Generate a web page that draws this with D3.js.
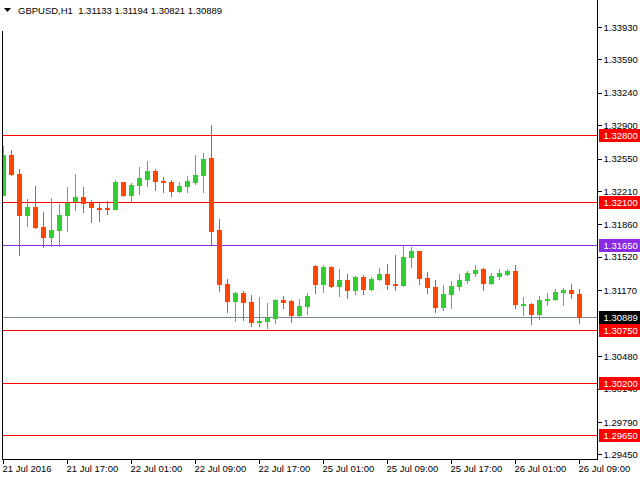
<!DOCTYPE html>
<html><head><meta charset="utf-8">
<script src="https://cdn.jsdelivr.net/npm/d3@7"></script>
<style>
html,body{margin:0;padding:0;background:#fff;overflow:hidden}
svg{display:block}
text{font-family:'Liberation Sans',Arial,sans-serif;font-size:9.5px;}
</style></head><body><svg id="c" width="640" height="480"></svg>
<script>
const symbol = "GBPUSD,H1";
const times = [
 "21 Jul 09:00","21 Jul 10:00","21 Jul 11:00","21 Jul 12:00","21 Jul 13:00","21 Jul 14:00","21 Jul 15:00","21 Jul 16:00",
 "21 Jul 17:00","21 Jul 18:00","21 Jul 19:00","21 Jul 20:00","21 Jul 21:00","21 Jul 22:00","21 Jul 23:00",
 "22 Jul 00:00","22 Jul 01:00","22 Jul 02:00","22 Jul 03:00","22 Jul 04:00","22 Jul 05:00","22 Jul 06:00","22 Jul 07:00","22 Jul 08:00",
 "22 Jul 09:00","22 Jul 10:00","22 Jul 11:00","22 Jul 12:00","22 Jul 13:00","22 Jul 14:00","22 Jul 15:00","22 Jul 16:00",
 "22 Jul 17:00","22 Jul 18:00","22 Jul 19:00","22 Jul 20:00","22 Jul 21:00","22 Jul 22:00","22 Jul 23:00",
 "25 Jul 00:00","25 Jul 01:00","25 Jul 02:00","25 Jul 03:00","25 Jul 04:00","25 Jul 05:00","25 Jul 06:00","25 Jul 07:00","25 Jul 08:00",
 "25 Jul 09:00","25 Jul 10:00","25 Jul 11:00","25 Jul 12:00","25 Jul 13:00","25 Jul 14:00","25 Jul 15:00","25 Jul 16:00",
 "25 Jul 17:00","25 Jul 18:00","25 Jul 19:00","25 Jul 20:00","25 Jul 21:00","25 Jul 22:00","25 Jul 23:00",
 "26 Jul 00:00","26 Jul 01:00","26 Jul 02:00","26 Jul 03:00","26 Jul 04:00","26 Jul 05:00","26 Jul 06:00","26 Jul 07:00","26 Jul 08:00",
 "26 Jul 09:00"
];
const open = [1.32167,1.32594,1.32394,1.31957,1.32048,1.31839,1.31727,1.31800,1.31957,1.32101,1.32153,1.32090,1.32038,1.32038,1.32020,1.32310,1.32164,1.32269,1.32331,1.32426,1.32321,1.32310,1.32206,1.32258,1.32300,1.32377,1.32562,1.31810,1.31244,1.31056,1.31150,1.31056,1.30836,1.30846,1.30878,1.31074,1.31063,1.30909,1.31003,1.31433,1.31234,1.31423,1.31213,1.31286,1.31171,1.31318,1.31182,1.31286,1.31349,1.31241,1.31220,1.31514,1.31587,1.31304,1.31210,1.30990,1.31126,1.31210,1.31273,1.31346,1.31399,1.31241,1.31315,1.31336,1.31378,1.31011,1.31032,1.30916,1.31063,1.31074,1.31147,1.31178,1.31133];
const high = [1.32688,1.32646,1.32444,1.32132,1.32269,1.31996,1.32143,1.32080,1.32258,1.32394,1.32258,1.32122,1.32090,1.32111,1.32331,1.32315,1.32300,1.32468,1.32531,1.32447,1.32363,1.32331,1.32310,1.32373,1.32594,1.32618,1.32908,1.31926,1.31294,1.31157,1.31165,1.31126,1.31108,1.31045,1.31081,1.31116,1.31074,1.31084,1.31147,1.31440,1.31440,1.31433,1.31402,1.31349,1.31328,1.31339,1.31318,1.31412,1.31454,1.31545,1.31640,1.31629,1.31592,1.31367,1.31283,1.31231,1.31273,1.31346,1.31378,1.31440,1.31409,1.31357,1.31399,1.31399,1.31440,1.31105,1.31042,1.31116,1.31147,1.31189,1.31199,1.31241,1.31194];
const low = [1.32164,1.32373,1.31538,1.31842,1.31821,1.31622,1.31632,1.31632,1.31790,1.32010,1.31989,1.31884,1.31894,1.31968,1.32015,1.32153,1.32101,1.32174,1.32258,1.32216,1.32195,1.32153,1.32200,1.32195,1.32279,1.32198,1.31647,1.31161,1.30941,1.30846,1.30857,1.30794,1.30794,1.30773,1.30825,1.30982,1.30836,1.30899,1.30920,1.31140,1.31150,1.31203,1.31108,1.31087,1.31129,1.31129,1.31171,1.31276,1.31182,1.31171,1.31215,1.31409,1.31231,1.31137,1.30937,1.30958,1.30979,1.31168,1.31241,1.31315,1.31168,1.31231,1.31283,1.31330,1.30979,1.30906,1.30812,1.30864,1.31011,1.31063,1.31011,1.31084,1.30821];
const close = [1.32594,1.32384,1.31957,1.32048,1.31831,1.31727,1.31807,1.31965,1.32090,1.32153,1.32083,1.32038,1.32020,1.32020,1.32310,1.32164,1.32279,1.32352,1.32426,1.32310,1.32300,1.32206,1.32269,1.32321,1.32384,1.32552,1.31790,1.31234,1.31056,1.31150,1.31045,1.30836,1.30857,1.30885,1.31074,1.31045,1.30909,1.31014,1.31116,1.31234,1.31423,1.31213,1.31286,1.31171,1.31318,1.31182,1.31297,1.31349,1.31234,1.31220,1.31524,1.31587,1.31297,1.31199,1.30990,1.31137,1.31220,1.31283,1.31357,1.31388,1.31241,1.31325,1.31357,1.31378,1.31021,1.31032,1.30916,1.31074,1.31084,1.31157,1.31178,1.31133,1.30889];
const levels = [1.32800,1.32100,1.31650,1.30750,1.30200,1.29650];
const levelColors = ["#ff0000","#ff0000","#8a2be2","#ff0000","#ff0000","#ff0000"];
const bid = 1.30889;
const yTicks = [1.33930,1.33590,1.33240,1.32900,1.32550,1.32210,1.31860,1.31520,1.31170,1.30480,1.30140,1.29790,1.29450];
const xTickTimes = ["21 Jul 09:00","21 Jul 17:00","22 Jul 01:00","22 Jul 09:00","22 Jul 17:00","25 Jul 01:00","25 Jul 09:00","25 Jul 17:00","26 Jul 01:00","26 Jul 09:00"];
const xTickLabels = ["21 Jul 2016","21 Jul 17:00","22 Jul 01:00","22 Jul 09:00","22 Jul 17:00","25 Jul 01:00","25 Jul 09:00","25 Jul 17:00","26 Jul 01:00","26 Jul 09:00"];

const bull = "#32cd32", bear = "#ff4500";
const L = 2.5, R = 597.5, B = 459.5;
const svg = d3.select("#c");
const x = d3.scalePoint().domain(times).range([3.5, 579.5]);
const y = d3.scaleLinear().domain([1.29407, 1.34218]).range([459, 0]);
const fmt = d3.format(".5f");
const data = times.map((t,i)=>({t, o:open[i], h:high[i], l:low[i], c:close[i]}));

svg.append("clipPath").attr("id","plot").append("rect").attr("x",3).attr("y",0).attr("width",594).attr("height",459);
const plot = svg.append("g").attr("clip-path","url(#plot)");

// level lines
levels.forEach((v,i)=>{
  const yy = Math.floor(y(v))+0.5;
  plot.append("line").attr("x1",3).attr("x2",597).attr("y1",yy).attr("y2",yy)
    .attr("stroke",levelColors[i]).attr("stroke-width",1);
});
const by = Math.floor(y(bid))+0.5;
plot.append("line").attr("x1",3).attr("x2",597).attr("y1",by).attr("y2",by).attr("stroke","#778899");

// candles
const cg = plot.append("g").attr("shape-rendering","crispEdges");
data.forEach(d=>{
  const cx = x(d.t);
  const col = d.c >= d.o ? bull : bear;
  const yh = Math.round(y(d.h)), yl = Math.round(y(d.l));
  cg.append("rect").attr("x",cx-0.5).attr("width",1).attr("y",yh).attr("height",Math.max(1,yl-yh)).attr("fill",col);
  const yt = Math.round(y(Math.max(d.o,d.c))), yb = Math.round(y(Math.min(d.o,d.c)));
  cg.append("rect").attr("x",cx-2.5).attr("width",5).attr("y",yt).attr("height",Math.max(2,yb-yt)).attr("fill",col);
});

// frame
const fg = svg.append("g").attr("stroke","#000").attr("fill","none");
fg.append("line").attr("x1",L).attr("x2",L).attr("y1",0).attr("y2",B);
fg.append("line").attr("x1",R).attr("x2",R).attr("y1",0).attr("y2",B+0.5);
fg.append("line").attr("x1",L).attr("x2",R).attr("y1",B).attr("y2",B);

// y axis
const ya = svg.append("g").attr("transform",`translate(${R},0)`)
  .call(d3.axisRight(y).tickValues(yTicks).tickSize(4).tickPadding(2).tickFormat(fmt).offset(0));
ya.select(".domain").remove();
ya.selectAll(".tick line").attr("stroke","#000").attr("shape-rendering","crispEdges");
ya.selectAll(".tick text").attr("fill","#000").style("font-size","9.5px").style("font-family",null);

// x axis
const xa = svg.append("g").attr("transform",`translate(0,${B})`)
  .call(d3.axisBottom(x).tickValues(xTickTimes).tickSize(4).tickPadding(2).offset(0)
    .tickFormat((d,i)=>xTickLabels[i]));
xa.select(".domain").remove();
xa.selectAll(".tick line").attr("stroke","#000").attr("shape-rendering","crispEdges");
xa.selectAll(".tick text").attr("fill","#000").attr("text-anchor","start").attr("x",-1)
  .style("font-size","9.5px").style("font-family",null);

// price label boxes
const lg = svg.append("g");
function box(v, col){
  const yy = Math.floor(y(v));
  lg.append("rect").attr("x",599).attr("y",yy-6).attr("width",41).attr("height",13).attr("fill",col);
  lg.append("text").attr("x",603.5).attr("y",yy+4).attr("fill","#fff").text(fmt(v));
}
levels.forEach((v,i)=>box(v, levelColors[i]));
box(bid, "#000");

// title
svg.append("rect").attr("x",0).attr("y",0).attr("width",224).attr("height",31).attr("fill","#fff");
svg.append("path").attr("d","M4,8 L11,8 L7.5,12 Z").attr("fill","#000");
const last = data[data.length-1];
svg.append("text").attr("x",18).attr("y",14).attr("fill","#000").attr("xml:space","preserve")
  .style("font-size","9.5px")
  .text(`${symbol}  ${fmt(last.o)} ${fmt(last.h)} ${fmt(last.l)} ${fmt(last.c)}`);
</script></body></html>
